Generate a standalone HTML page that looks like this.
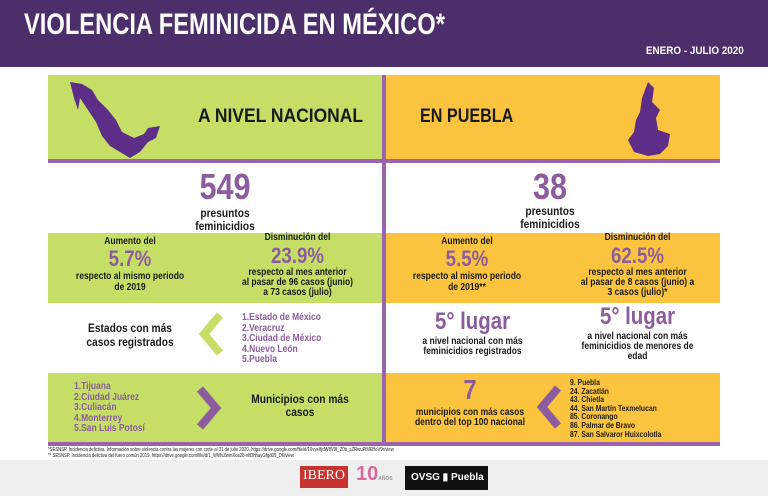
<!DOCTYPE html>
<html><head><meta charset="utf-8">
<style>
*{margin:0;padding:0;box-sizing:border-box}
body{width:768px;height:496px;background:#fff;position:relative;overflow:hidden;font-family:"Liberation Sans",sans-serif;font-weight:bold;color:#1a1a1a}
.a{position:absolute}
.c{text-align:center}
.t{transform:scaleX(.85);transform-origin:left center}
.c.t{transform-origin:center center}
.hdr{left:0;top:0;width:768px;height:67px;background:#4b2e6a}
.g{background:#c5df66}
.o{background:#fcc43e}
.num{color:#8c5c9e}
.pl{color:#8c5c9e}
</style></head><body>
<div class="a hdr"></div>
<div class="a" style="left:24px;top:8px;font-size:30px;color:#fff;transform:scaleX(.79);transform-origin:left center">VIOLENCIA FEMINICIDA EN MÉXICO*</div>
<div class="a" style="right:24px;top:45px;font-size:11px;color:#fff;transform:scaleX(.9);transform-origin:right center">ENERO - JULIO 2020</div>

<div class="a g" style="left:48px;top:75px;width:334px;height:85px"></div>
<div class="a o" style="left:386px;top:75px;width:334px;height:85px"></div>
<div class="a g" style="left:48px;top:233px;width:334px;height:70px"></div>
<div class="a o" style="left:386px;top:233px;width:334px;height:70px"></div>
<div class="a g" style="left:48px;top:373px;width:334px;height:70px"></div>
<div class="a o" style="left:386px;top:373px;width:334px;height:70px"></div>
<div class="a" style="left:48px;top:159px;width:672px;height:4px;background:#9b62ae"></div>
<div class="a" style="left:382px;top:75px;width:4px;height:368px;background:#9b62ae"></div>
<div class="a" style="left:48px;top:442px;width:672px;height:4px;background:#9b62ae"></div>

<svg class="a" style="left:68px;top:80px" width="110" height="80" viewBox="0 0 110 80"><path d="M2 2 L14 4 L24 10 L30 20 L40 30 L48 40 L54 52 L66 58 L76 54 L80 48 L92 46 L88 58 L80 62 L72 72 L62 78 L52 72 L42 66 L34 56 L28 42 L20 30 L12 18 L10 30 L6 18 Z" fill="#5e2d87"/></svg>
<svg class="a" style="left:626px;top:80px" width="50" height="78" viewBox="0 0 50 78"><path d="M22 2 L28 8 L26 22 L34 30 L30 38 L32 50 L44 54 L42 66 L34 74 L22 76 L8 72 L2 60 L8 52 L10 40 L14 32 L16 18 Z" fill="#5e2d87"/></svg>
<div class="a t" style="left:198px;top:106px;font-size:19px;transform:scaleX(.92)">A NIVEL NACIONAL</div>
<div class="a t" style="left:420px;top:106px;font-size:19px;transform:scaleX(.85)">EN PUEBLA</div>

<div class="a c t num" style="left:150px;top:166px;width:150px;font-size:36px">549</div>
<div class="a c t" style="left:150px;top:207px;width:150px;font-size:12px;line-height:13px">presuntos<br>feminicidios</div>
<div class="a c t num" style="left:475px;top:166px;width:150px;font-size:36px">38</div>
<div class="a c t" style="left:475px;top:205px;width:150px;font-size:12px;line-height:13px">presuntos<br>feminicidios</div>

<div class="a c t" style="left:45px;top:236px;width:170px;font-size:10px;line-height:11px">Aumento del<div class="num" style="font-size:22px;line-height:24px">5.7%</div>respecto al mismo periodo<br>de 2019</div>
<div class="a c t" style="left:210px;top:233px;width:175px;font-size:10px;line-height:10px">Disminución del<div class="num" style="font-size:22px;line-height:25px">23.9%</div>respecto al mes anterior<br>al pasar de 96 casos (junio)<br>a 73 casos (julio)</div>
<div class="a c t" style="left:382px;top:236px;width:170px;font-size:10px;line-height:11px">Aumento del<div class="num" style="font-size:22px;line-height:24px">5.5%</div>respecto al mismo periodo<br>de 2019**</div>
<div class="a c t" style="left:550px;top:233px;width:175px;font-size:10px;line-height:10px">Disminución del<div class="num" style="font-size:22px;line-height:25px">62.5%</div>respecto al mes anterior<br>al pasar de 8 casos (junio) a<br>3 casos (julio)*</div>

<div class="a c t" style="left:55px;top:321px;width:150px;font-size:12px;line-height:14px">Estados con más<br>casos registrados</div>
<svg class="a" style="left:198px;top:312px" width="26" height="44"><polyline points="22,3 6,22 22,41" fill="none" stroke="#c5df66" stroke-width="8"/></svg>
<div class="a t pl" style="left:242px;top:313px;font-size:10px;line-height:10.5px">1.Estado de México<br>2.Veracruz<br>3.Ciudad de México<br>4.Nuevo León<br>5.Puebla</div>
<div class="a c t num" style="left:400px;top:308px;width:145px;font-size:24px">5° lugar</div>
<div class="a c t" style="left:390px;top:337px;width:165px;font-size:10px;line-height:10px">a nivel nacional con más<br>feminicidios registrados</div>
<div class="a c t num" style="left:565px;top:303px;width:145px;font-size:24px">5° lugar</div>
<div class="a c t" style="left:555px;top:332px;width:165px;font-size:10px;line-height:10px">a nivel nacional con más<br>feminicidios de menores de<br>edad</div>

<div class="a t pl" style="left:74px;top:382px;font-size:10px;line-height:10.5px">1.Tijuana<br>2.Ciudad Juárez<br>3.Culiacán<br>4.Monterrey<br>5.San Luis Potosí</div>
<svg class="a" style="left:196px;top:386px" width="26" height="44"><polyline points="4,3 20,22 4,41" fill="none" stroke="#8c5c9e" stroke-width="8"/></svg>
<div class="a c t" style="left:225px;top:393px;width:150px;font-size:12px;line-height:13px">Municipios con más<br>casos</div>
<div class="a c t num" style="left:400px;top:374px;width:140px;font-size:28px">7</div>
<div class="a c t" style="left:390px;top:408px;width:160px;font-size:10px;line-height:10px">municipios con más casos<br>dentro del top 100 nacional</div>
<svg class="a" style="left:536px;top:385px" width="26" height="44"><polyline points="22,3 6,22 22,41" fill="none" stroke="#8c5c9e" stroke-width="8"/></svg>
<div class="a t" style="left:570px;top:379px;font-size:8px;line-height:8.6px">9. Puebla<br>24. Zacatlán<br>43. Chietla<br>44. San Martín Texmelucan<br>85. Coronango<br>86. Palmar de Bravo<br>87. San Salvaror Huixcolotla</div>

<div class="a t" style="left:48px;top:448px;font-size:5px;line-height:5.5px;font-weight:normal">*SESNSP. Incidencia delictiva. Información sobre violencia contra las mujeres con corte al 31 de julio 2020. https://drive.google.com/file/d/10vyeIfjdW8V9f_Z0b_sZRwuPiM6BoV9r/view<br>** SESNSP. Incidencia delictiva del fuero común 2019. https://drive.google.com/file/d/1_WWvZwmXos28-vIlDhhayGfgd09_D6/view</div>

<div class="a" style="left:0;top:460px;width:768px;height:36px;background:#efefef"></div>
<div class="a c" style="left:300px;top:466px;width:48px;height:22px;background:#c8332e;color:#fff;font-family:'Liberation Serif',serif;font-weight:normal;font-size:14px;line-height:20px">IBERO</div>
<div class="a" style="left:356px;top:463px;font-size:20px;color:#d86aa0">10<span style="font-size:5px;color:#999">AÑOS</span></div>
<div class="a" style="left:405px;top:466px;width:83px;height:24px;background:#111;"></div>
<div class="a" style="left:411px;top:466px;color:#fff;font-size:10px;line-height:24px;white-space:nowrap">OVSG ▮ Puebla</div>
</body></html>
